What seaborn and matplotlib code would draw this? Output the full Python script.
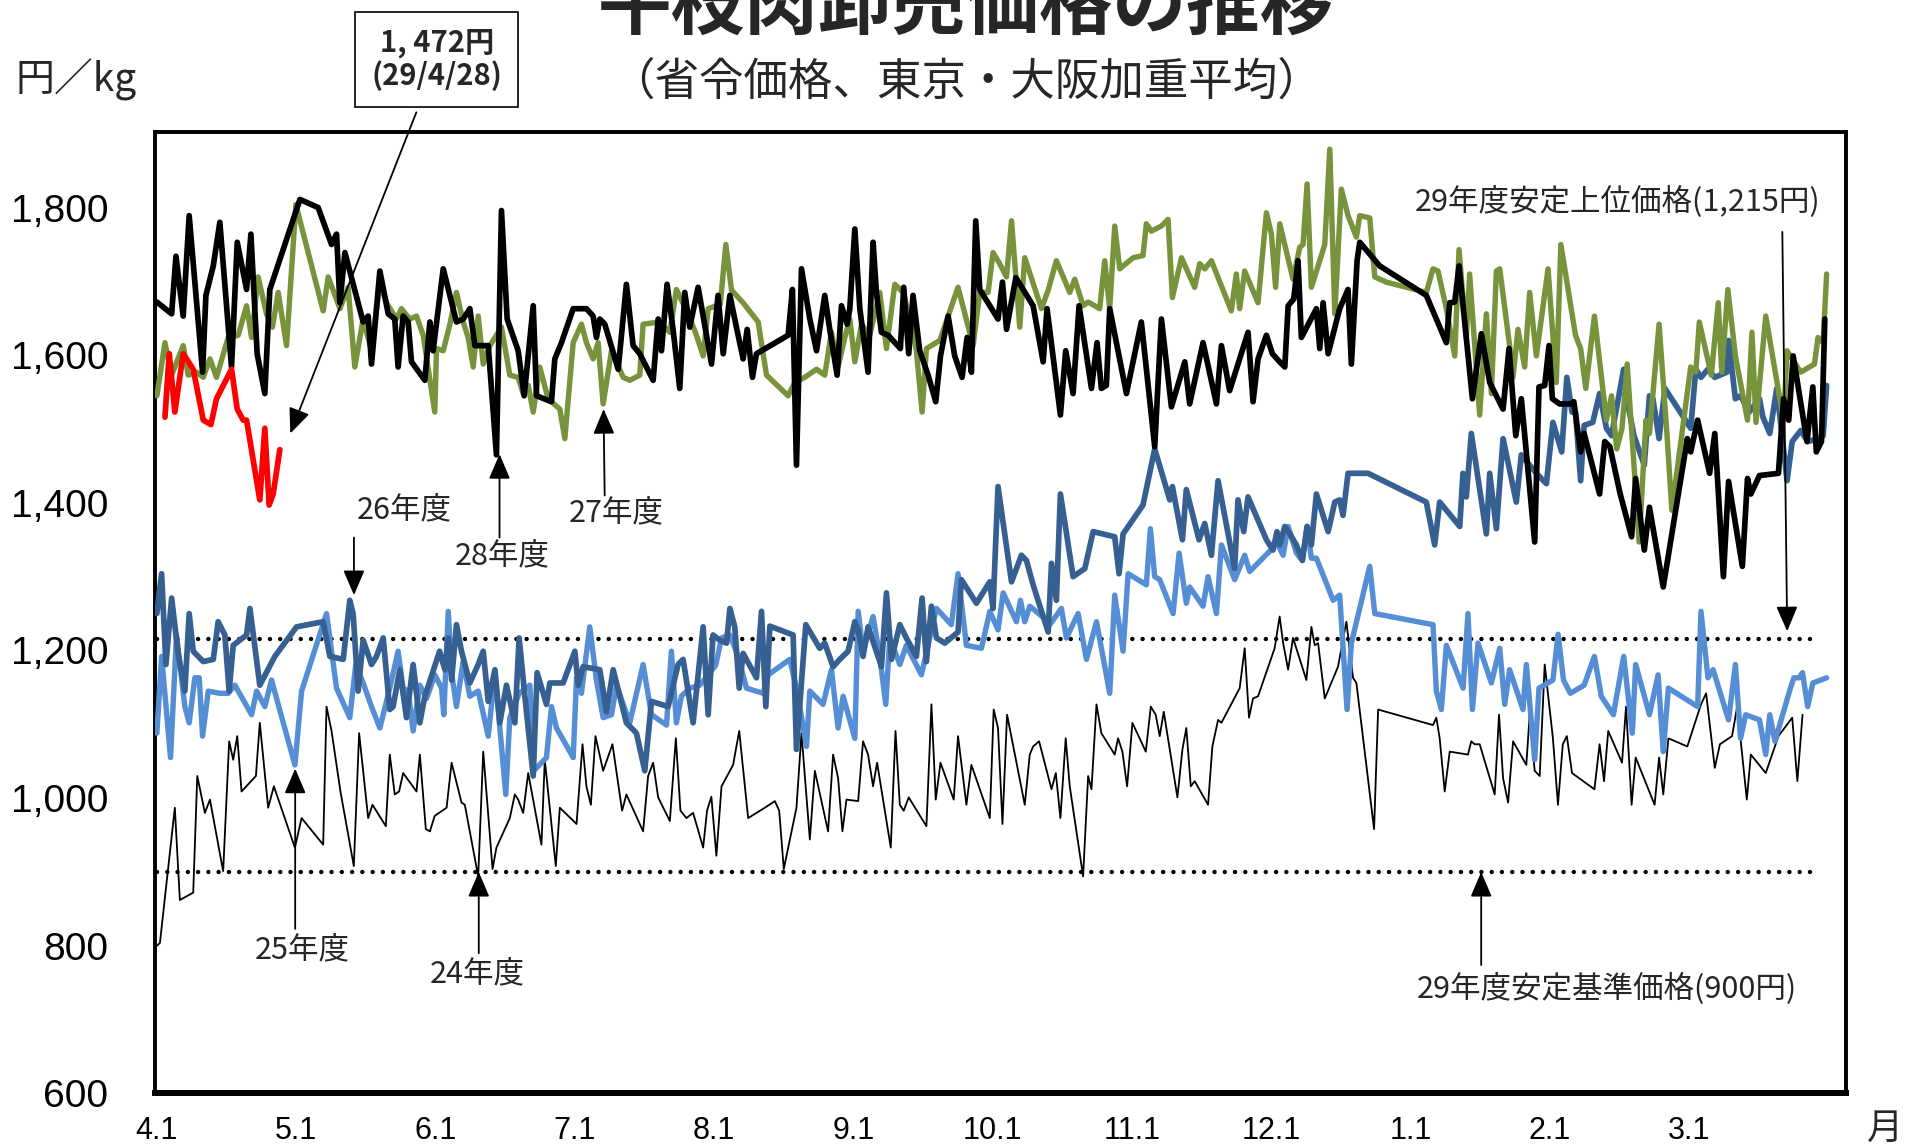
import matplotlib
matplotlib.use("Agg")
import matplotlib.pyplot as plt
import seaborn as sns
import numpy as np

# --- データ(横軸: 4月1日=0 とした月単位の位置, 縦軸: 円/kg) ---
months = ["4.1", "5.1", "6.1", "7.1", "8.1", "9.1", "10.1", "11.1", "12.1", "1.1", "2.1", "3.1"]
upper_price = 1215   # 29年度安定上位価格
base_price = 900     # 29年度安定基準価格

# 24年度
x_24 = [0.0, 0.022, 0.129, 0.165, 0.261, 0.29, 0.345, 0.381, 0.476, 0.519, 0.548, 0.577, 0.608, 0.711, 0.739,
        0.799, 0.84, 0.991, 1.039, 1.194, 1.218, 1.254, 1.318, 1.414, 1.452, 1.517, 1.548, 1.644, 1.672, 1.708,
        1.739, 1.768, 1.864, 1.888, 1.931, 1.96, 1.995, 2.08, 2.116, 2.187, 2.211, 2.307, 2.343, 2.41, 2.438,
        2.534, 2.57, 2.594, 2.63, 2.666, 2.761, 2.785, 2.864, 2.893, 3.013, 3.056, 3.084, 3.116, 3.149, 3.204,
        3.271, 3.34, 3.371, 3.491, 3.527, 3.563, 3.599, 3.683, 3.726, 3.759, 3.802, 3.85, 3.922, 3.95, 3.981,
        4.017, 4.054, 4.137, 4.181, 4.245, 4.365, 4.437, 4.468, 4.501, 4.592, 4.628, 4.688, 4.724, 4.819, 4.855,
        4.891, 4.922, 4.951, 5.035, 5.07, 5.106, 5.142, 5.171, 5.269, 5.303, 5.334, 5.362, 5.398, 5.525, 5.561,
        5.592, 5.626, 5.721, 5.752, 5.812, 5.848, 5.98, 6.008, 6.039, 6.071, 6.104, 6.231, 6.267, 6.291, 6.334,
        6.423, 6.454, 6.487, 6.525, 6.554, 6.65, 6.686, 6.71, 6.746, 6.781, 6.877, 6.901, 6.932, 6.966, 7.004,
        7.1, 7.136, 7.171, 7.2, 7.229, 7.327, 7.363, 7.391, 7.423, 7.451, 7.547, 7.578, 7.619, 7.643, 7.774,
        7.81, 7.841, 7.87, 7.906, 8.025, 8.061, 8.086, 8.122, 8.157, 8.253, 8.289, 8.313, 8.337, 8.385, 8.48,
        8.54, 8.588, 8.612, 8.739, 8.768, 9.162, 9.186, 9.21, 9.246, 9.282, 9.413, 9.437, 9.461, 9.497, 9.605,
        9.636, 9.665, 9.701, 9.737, 9.832, 9.856, 9.892, 9.928, 9.964, 10.023, 10.059, 10.094, 10.123, 10.16,
        10.321, 10.358, 10.39, 10.42, 10.519, 10.548, 10.588, 10.617, 10.753, 10.785, 10.815, 10.852, 10.988,
        11.086, 11.123, 11.185, 11.222, 11.309, 11.346, 11.415, 11.444, 11.551, 11.642, 11.741, 11.778, 11.815]
y_24 = [800, 804, 987, 862, 872, 1030, 980, 998, 901, 1077, 1052, 1084, 1009, 1030, 1102,
        987, 1016, 933, 973, 937, 1124, 1091, 1009, 908, 1088, 973, 991, 962, 1059, 1005,
        1009, 1034, 1009, 1059, 958, 955, 976, 987, 1048, 994, 991, 894, 1063, 904, 933,
        973, 1005, 998, 980, 1034, 937, 1052, 908, 987, 965, 1073, 1016, 991, 1084, 1037,
        1073, 983, 1005, 955, 1030, 1048, 1001, 969, 1081, 983, 973, 980, 933, 983, 1002,
        922, 1016, 1045, 1091, 973, 987, 996, 983, 904, 987, 1088, 944, 1037, 955, 1059,
        1027, 955, 998, 996, 1077, 1059, 1016, 1048, 933, 1091, 991, 983, 1001, 962, 1127,
        998, 1048, 998, 1084, 991, 1045, 973, 1120, 1095, 965, 1113, 991, 1059, 1070, 1077,
        1012, 1034, 973, 1081, 1016, 894, 1030, 1012, 1127, 1088, 1059, 1081, 1063, 1016, 1102,
        1063, 1124, 1113, 1084, 1117, 1001, 1066, 1095, 1016, 1023, 991, 1070, 1106, 1102, 1149,
        1203, 1109, 1135, 1138, 1203, 1246, 1210, 1174, 1217, 1160, 1232, 1207, 1210, 1135, 1178,
        1239, 1163, 1156, 958, 1120, 1099, 1109, 1081, 1009, 1063, 1059, 1077, 1073, 1073, 1005,
        1113, 1027, 994, 1077, 1045, 1113, 1037, 1030, 1181, 1081, 991, 1073, 1084, 1034,
        1012, 1073, 1023, 1091, 1048, 1124, 991, 1055, 991, 1055, 1005, 1081, 1070,
        1127, 1142, 1041, 1073, 1084, 1124, 998, 1059, 1034, 1084, 1109, 1023, 1113]

# 25年度
x_25 = [0.0, 0.034, 0.098, 0.141, 0.201, 0.232, 0.273, 0.304, 0.328, 0.369, 0.452, 0.512, 0.56, 0.68, 0.716,
        0.775, 0.823, 0.991, 1.039, 1.218, 1.29, 1.385, 1.428, 1.481, 1.541, 1.601, 1.672, 1.732, 1.768, 1.804,
        1.84, 1.888, 1.936, 1.996, 2.044, 2.06, 2.092, 2.116, 2.151, 2.199, 2.247, 2.307, 2.379, 2.427, 2.505,
        2.534, 2.601, 2.678, 2.706, 2.797, 2.833, 2.869, 2.989, 3.013, 3.048, 3.108, 3.156, 3.204, 3.264, 3.3,
        3.395, 3.491, 3.551, 3.659, 3.694, 3.73, 3.766, 3.826, 3.898, 4.012, 4.054, 4.114, 4.173, 4.233, 4.353,
        4.389, 4.544, 4.597, 4.664, 4.688, 4.783, 4.843, 4.891, 4.927, 5.011, 5.035, 5.07, 5.142, 5.19, 5.233,
        5.262, 5.334, 5.381, 5.489, 5.537, 5.597, 5.704, 5.752, 5.812, 5.92, 5.98, 6.039, 6.076, 6.171, 6.2,
        6.231, 6.267, 6.375, 6.411, 6.494, 6.53, 6.614, 6.674, 6.746, 6.841, 6.877, 6.937, 6.973, 7.104, 7.133,
        7.164, 7.2, 7.296, 7.339, 7.391, 7.415, 7.511, 7.547, 7.607, 7.643, 7.738, 7.81, 7.846, 8.013, 8.038,
        8.086, 8.122, 8.181, 8.224, 8.258, 8.289, 8.325, 8.445, 8.492, 8.545, 8.576, 8.708, 8.744, 9.162, 9.186,
        9.222, 9.258, 9.378, 9.413, 9.445, 9.485, 9.581, 9.641, 9.677, 9.712, 9.808, 9.832, 9.892, 9.923, 10.023,
        10.06, 10.099, 10.148, 10.247, 10.321, 10.37, 10.457, 10.531, 10.593, 10.617, 10.716, 10.778, 10.815,
        10.852, 11.062, 11.086, 11.136, 11.173, 11.284, 11.333, 11.37, 11.407, 11.506, 11.551, 11.58, 11.617,
        11.728, 11.753, 11.79, 11.815, 11.852, 11.889, 11.988]
y_25 = [1088, 1192, 1055, 1221, 1124, 1102, 1163, 1163, 1084, 1145, 1142, 1142, 1153, 1113, 1145,
        1124, 1160, 1045, 1145, 1250, 1149, 1109, 1181, 1156, 1124, 1095, 1149, 1199, 1149, 1145,
        1091, 1153, 1135, 1167, 1149, 1113, 1253, 1170, 1124, 1185, 1138, 1145, 1084, 1170, 1005,
        1109, 1142, 1153, 1037, 1055, 1124, 1095, 1055, 1163, 1142, 1232, 1160, 1109, 1113, 1153,
        1102, 1181, 1113, 1099, 1199, 1102, 1138, 1149, 1153, 1180, 1217, 1221, 1192, 1149, 1142,
        1167, 1188, 1145, 1070, 1145, 1127, 1174, 1095, 1138, 1081, 1253, 1199, 1246, 1192, 1127,
        1217, 1181, 1207, 1167, 1207, 1257, 1235, 1304, 1207, 1203, 1253, 1228, 1278, 1239, 1268,
        1239, 1260, 1243, 1235, 1257, 1217, 1250, 1188, 1239, 1142, 1275, 1199, 1304, 1289, 1365,
        1300, 1296, 1250, 1332, 1264, 1286, 1260, 1300, 1250, 1343, 1296, 1329, 1307, 1339, 1347,
        1329, 1368, 1332, 1322, 1368, 1325, 1325, 1268, 1275, 1120, 1210, 1314, 1250, 1235, 1145,
        1120, 1207, 1149, 1250, 1120, 1210, 1156, 1203, 1127, 1174, 1120, 1181, 1052, 1149, 1160,
        1222, 1160, 1142, 1153, 1192, 1138, 1113, 1192, 1088, 1181, 1113, 1167, 1063,
        1149, 1124, 1253, 1163, 1174, 1106, 1181, 1081, 1113, 1106, 1059, 1113, 1077,
        1149, 1163, 1163, 1170, 1124, 1156, 1163]

# 26年度
x_26 = [0.0, 0.034, 0.065, 0.106, 0.153, 0.201, 0.232, 0.261, 0.333, 0.405, 0.44, 0.488, 0.519, 0.548, 0.644,
        0.668, 0.739, 0.847, 1.003, 1.194, 1.242, 1.338, 1.385, 1.409, 1.445, 1.481, 1.541, 1.577, 1.625, 1.672,
        1.696, 1.744, 1.792, 1.84, 1.888, 1.924, 2.03, 2.068, 2.092, 2.116, 2.151, 2.187, 2.247, 2.307, 2.343,
        2.379, 2.427, 2.462, 2.51, 2.57, 2.601, 2.642, 2.702, 2.73, 2.797, 2.821, 2.917, 3.001, 3.025, 3.06,
        3.18, 3.228, 3.276, 3.371, 3.443, 3.503, 3.551, 3.671, 3.742, 3.778, 3.85, 3.922, 3.958, 3.993, 4.041,
        4.09, 4.114, 4.149, 4.181, 4.209, 4.305, 4.341, 4.372, 4.401, 4.568, 4.592, 4.659, 4.759, 4.795, 4.855,
        4.903, 4.963, 5.011, 5.035, 5.07, 5.106, 5.178, 5.202, 5.238, 5.274, 5.334, 5.381, 5.453, 5.494, 5.525,
        5.561, 5.597, 5.657, 5.752, 5.776, 5.884, 5.98, 6.003, 6.039, 6.136, 6.207, 6.243, 6.291, 6.399, 6.423,
        6.458, 6.487, 6.578, 6.662, 6.722, 6.877, 6.908, 6.937, 7.08, 7.164, 7.272, 7.291, 7.363, 7.391, 7.482,
        7.523, 7.571, 7.619, 7.738, 7.762, 7.803, 7.834, 7.966, 8.013, 8.042, 8.062, 8.098, 8.134, 8.181, 8.224,
        8.258, 8.289, 8.325, 8.409, 8.457, 8.492, 8.516, 8.552, 8.696, 9.114, 9.174, 9.21, 9.354, 9.377, 9.401,
        9.437, 9.545, 9.569, 9.617, 9.665, 9.76, 9.796, 9.904, 9.976, 10.023, 10.086, 10.123, 10.16, 10.185,
        10.222, 10.247, 10.309, 10.358, 10.407, 10.444, 10.531, 10.568, 10.605, 10.679, 10.716, 10.741, 10.785,
        10.827, 11.012, 11.049, 11.086, 11.136, 11.185, 11.272, 11.284, 11.333, 11.37, 11.432, 11.506, 11.531,
        11.58, 11.63, 11.704, 11.741, 11.802, 11.852, 11.926, 11.963, 11.988]
y_26 = [1250, 1304, 1181, 1271, 1196, 1145, 1250, 1199, 1185, 1188, 1239, 1221, 1145, 1207, 1221,
        1257, 1153, 1192, 1232, 1239, 1192, 1188, 1268, 1250, 1145, 1214, 1181, 1192, 1217, 1120,
        1124, 1174, 1109, 1181, 1102, 1138, 1199, 1174, 1217, 1160, 1235, 1199, 1156, 1181, 1199,
        1131, 1174, 1102, 1153, 1102, 1217, 1138, 1030, 1170, 1127, 1156, 1156, 1199, 1153, 1178,
        1174, 1117, 1174, 1102, 1088, 1037, 1131, 1124, 1181, 1188, 1102, 1232, 1113, 1221, 1214,
        1210, 1257, 1232, 1149, 1196, 1163, 1253, 1124, 1233, 1221, 1066, 1235, 1203, 1210, 1178,
        1188, 1199, 1239, 1228, 1192, 1232, 1192, 1178, 1278, 1188, 1235, 1217, 1192, 1271, 1185,
        1260, 1217, 1210, 1225, 1296, 1264, 1293, 1257, 1422, 1293, 1329, 1322, 1289, 1225, 1318,
        1268, 1412, 1300, 1311, 1361, 1354, 1304, 1358, 1397, 1473, 1404, 1422, 1350, 1418, 1350,
        1372, 1329, 1430, 1311, 1404, 1361, 1408, 1350, 1336, 1361, 1343, 1368, 1358, 1343, 1322,
        1368, 1343, 1412, 1361, 1401, 1404, 1383, 1440, 1440, 1401, 1343, 1401, 1368, 1440, 1408,
        1494, 1358, 1440, 1365, 1487, 1401, 1465, 1440, 1426, 1509, 1469, 1570, 1523, 1523,
        1430, 1505, 1509, 1548, 1501, 1491, 1581, 1527, 1491, 1451, 1545, 1541, 1487,
        1555, 1501, 1581, 1570, 1581, 1570, 1577, 1620, 1541, 1545, 1523, 1541, 1516,
        1494, 1555, 1430, 1483, 1498, 1483, 1487, 1491, 1559]

# 27年度
x_27 = [0.0, 0.058, 0.106, 0.189, 0.225, 0.285, 0.333, 0.381, 0.428, 0.512, 0.584, 0.644, 0.68, 0.727, 0.787,
        0.83, 0.871, 0.931, 0.998, 1.194, 1.23, 1.314, 1.373, 1.421, 1.481, 1.541, 1.601, 1.649, 1.72, 1.756,
        1.816, 1.864, 1.912, 1.995, 2.008, 2.056, 2.104, 2.151, 2.199, 2.235, 2.271, 2.307, 2.343, 2.391, 2.474,
        2.534, 2.594, 2.63, 2.666, 2.702, 2.749, 2.809, 2.893, 2.929, 2.989, 3.048, 3.084, 3.132, 3.168, 3.204,
        3.264, 3.348, 3.395, 3.467, 3.491, 3.611, 3.683, 3.73, 3.814, 3.874, 3.922, 3.958, 4.045, 4.085, 4.126,
        4.209, 4.317, 4.377, 4.532, 4.58, 4.652, 4.736, 4.795, 4.843, 4.891, 4.939, 4.975, 5.011, 5.059, 5.118,
        5.19, 5.238, 5.298, 5.358, 5.417, 5.453, 5.494, 5.525, 5.621, 5.752, 5.86, 5.908, 5.968, 6.003, 6.051,
        6.1, 6.136, 6.195, 6.231, 6.351, 6.399, 6.458, 6.554, 6.59, 6.65, 6.686, 6.769, 6.805, 6.841, 6.877,
        6.913, 7.009, 7.08, 7.104, 7.14, 7.212, 7.26, 7.291, 7.356, 7.451, 7.487, 7.523, 7.571, 7.714, 7.75,
        7.774, 7.81, 7.906, 7.966, 8.002, 8.032, 8.062, 8.157, 8.205, 8.229, 8.258, 8.289, 8.385, 8.421, 8.457,
        8.504, 8.552, 8.612, 8.636, 8.708, 8.744, 8.827, 9.114, 9.162, 9.198, 9.258, 9.318, 9.349, 9.401, 9.425,
        9.497, 9.545, 9.581, 9.617, 9.641, 9.712, 9.736, 9.772, 9.82, 9.856, 9.904, 9.988, 10.047, 10.08,
        10.185, 10.222, 10.259, 10.321, 10.407, 10.444, 10.481, 10.519, 10.556, 10.642, 10.691, 10.716, 10.785,
        10.84, 10.877, 11.012, 11.049, 11.074, 11.16, 11.21, 11.235, 11.279, 11.333, 11.42, 11.452, 11.481,
        11.551, 11.642, 11.679, 11.704, 11.802, 11.901, 11.926, 11.963, 11.988]
y_27 = [1545, 1617, 1573, 1613, 1573, 1577, 1570, 1595, 1570, 1624, 1627, 1667, 1624, 1706, 1656,
        1638, 1685, 1613, 1804, 1660, 1706, 1663, 1692, 1584, 1649, 1606, 1699, 1671, 1649, 1663,
        1649, 1653, 1627, 1523, 1609, 1606, 1642, 1685, 1645, 1624, 1584, 1653, 1588, 1613, 1638,
        1573, 1570, 1548, 1559, 1523, 1584, 1541, 1527, 1487, 1617, 1642, 1617, 1595, 1617, 1534,
        1606, 1570, 1566, 1573, 1642, 1645, 1631, 1689, 1656, 1627, 1599, 1663, 1669, 1750, 1688,
        1671, 1645, 1573, 1545, 1563, 1570, 1581, 1573, 1631, 1584, 1624, 1649, 1591, 1642, 1627,
        1685, 1609, 1696, 1685, 1642, 1606, 1523, 1609, 1620, 1692, 1613, 1685, 1685, 1739, 1724,
        1706, 1782, 1638, 1732, 1663, 1688, 1728, 1685, 1703, 1667, 1672, 1663, 1728, 1663, 1775,
        1717, 1732, 1735, 1778, 1768, 1775, 1784, 1678, 1732, 1692, 1724, 1717, 1728, 1660, 1710,
        1663, 1714, 1671, 1793, 1764, 1692, 1778, 1703, 1746, 1750, 1832, 1692, 1750, 1879, 1656,
        1825, 1789, 1760, 1789, 1786, 1706, 1699, 1685, 1717, 1714, 1663, 1599, 1743, 1624, 1710,
        1519, 1656, 1548, 1714, 1717, 1613, 1570, 1635, 1584, 1685, 1599, 1717, 1563, 1750,
        1627, 1609, 1555, 1653, 1512, 1545, 1473, 1501, 1588, 1347, 1512, 1494, 1642,
        1498, 1390, 1584, 1577, 1645, 1573, 1671, 1577, 1689, 1599, 1512, 1631, 1509,
        1653, 1552, 1512, 1606, 1577, 1588, 1624, 1617, 1710]

# 28年度
x_28 = [0.0, 0.106, 0.137, 0.189, 0.232, 0.328, 0.352, 0.405, 0.452, 0.536, 0.577, 0.644, 0.675, 0.72, 0.775,
        0.811, 1.027, 1.158, 1.254, 1.29, 1.314, 1.35, 1.481, 1.517, 1.541, 1.601, 1.661, 1.708, 1.732, 1.768,
        1.804, 1.828, 1.924, 1.96, 1.983, 2.056, 2.151, 2.199, 2.247, 2.283, 2.379, 2.438, 2.474, 2.515, 2.594,
        2.637, 2.702, 2.726, 2.833, 2.857, 2.905, 2.989, 3.084, 3.132, 3.156, 3.18, 3.216, 3.312, 3.371, 3.419,
        3.467, 3.563, 3.599, 3.623, 3.663, 3.706, 3.754, 3.79, 3.826, 3.886, 3.946, 3.982, 4.029, 4.066, 4.114,
        4.161, 4.209, 4.238, 4.276, 4.305, 4.532, 4.563, 4.592, 4.628, 4.688, 4.736, 4.795, 4.831, 4.884, 4.915,
        4.956, 4.975, 5.011, 5.047, 5.106, 5.142, 5.166, 5.202, 5.25, 5.338, 5.362, 5.398, 5.429, 5.477, 5.537,
        5.592, 5.626, 5.681, 5.728, 5.781, 5.817, 5.848, 5.879, 5.908, 6.039, 6.071, 6.1, 6.167, 6.291, 6.363,
        6.391, 6.487, 6.525, 6.578, 6.621, 6.71, 6.75, 6.781, 6.817, 6.841, 6.961, 7.068, 7.164, 7.212, 7.284,
        7.38, 7.415, 7.511, 7.607, 7.643, 7.702, 7.834, 7.87, 7.906, 7.966, 8.009, 8.061, 8.098, 8.122, 8.162,
        8.193, 8.217, 8.325, 8.349, 8.373, 8.409, 8.492, 8.552, 8.576, 8.617, 8.636, 8.779, 9.114, 9.258, 9.282,
        9.318, 9.349, 9.445, 9.509, 9.569, 9.665, 9.708, 9.756, 9.796, 9.892, 9.923, 9.964, 9.995, 10.019,
        10.071, 10.148, 10.173, 10.222, 10.247, 10.358, 10.395, 10.432, 10.506, 10.588, 10.617, 10.679, 10.716,
        10.815, 10.988, 11.012, 11.062, 11.148, 11.185, 11.247, 11.284, 11.383, 11.42, 11.444, 11.506, 11.642,
        11.679, 11.716, 11.748, 11.847, 11.889, 11.914, 11.951, 11.975]
y_28 = [1672, 1656, 1734, 1653, 1789, 1577, 1681, 1721, 1780, 1584, 1753, 1689, 1764, 1602, 1548,
        1689, 1811, 1800, 1750, 1764, 1671, 1739, 1645, 1653, 1588, 1714, 1656, 1649, 1584, 1653,
        1645, 1591, 1566, 1645, 1606, 1717, 1645, 1649, 1663, 1613, 1613, 1465, 1796, 1649, 1606,
        1545, 1667, 1545, 1537, 1595, 1617, 1663, 1663, 1653, 1624, 1649, 1642, 1581, 1696, 1613,
        1602, 1566, 1649, 1606, 1696, 1635, 1555, 1685, 1638, 1692, 1627, 1588, 1681, 1602, 1681,
        1638, 1595, 1635, 1570, 1602, 1627, 1689, 1451, 1717, 1649, 1606, 1681, 1635, 1573, 1667,
        1642, 1663, 1771, 1663, 1577, 1753, 1685, 1631, 1627, 1609, 1692, 1602, 1681, 1606, 1573,
        1537, 1599, 1653, 1599, 1570, 1624, 1577, 1782, 1689, 1649, 1699, 1635, 1705, 1667, 1591,
        1663, 1519, 1606, 1548, 1667, 1555, 1617, 1555, 1559, 1663, 1548, 1645, 1476, 1649, 1530,
        1591, 1534, 1617, 1534, 1613, 1552, 1631, 1537, 1595, 1627, 1602, 1591, 1584, 1667, 1676,
        1728, 1624, 1663, 1609, 1671, 1602, 1663, 1689, 1588, 1728, 1753, 1721, 1681, 1617, 1671,
        1672, 1721, 1541, 1629, 1563, 1527, 1609, 1491, 1541, 1347, 1557, 1559, 1613, 1541,
        1534, 1534, 1537, 1469, 1494, 1412, 1483, 1476, 1412, 1354, 1433, 1336, 1394,
        1286, 1487, 1469, 1512, 1440, 1494, 1300, 1429, 1314, 1433, 1412, 1437, 1440,
        1541, 1512, 1599, 1483, 1557, 1469, 1483, 1649]

# 29年度
x_29 = [0.058, 0.089, 0.129, 0.189, 0.261, 0.333, 0.388, 0.428, 0.536, 0.577, 0.62, 0.644, 0.739, 0.775,
        0.806, 0.835, 0.883]
y_29 = [1516, 1602, 1523, 1602, 1581, 1512, 1506, 1541, 1581, 1527, 1512, 1512, 1404, 1501,
        1397, 1412, 1472]

# --- 描画 ---
sns.set_style("white")
plt.rcParams["font.family"] = ["Liberation Sans", "Noto Sans CJK JP", "DejaVu Sans"]
jp = ["Noto Sans CJK JP", "DejaVu Sans"]

fig = plt.figure(figsize=(19.1, 11.47), dpi=100)
ax = fig.add_axes([0.0814, 0.0467, 0.8853, 0.838])

ax.hlines([upper_price, base_price], 0, 11.92, colors="black", linewidth=3.2,
          linestyles=[(0, (0.01, 2.3))], capstyle="round", zorder=2)

series = [
    (x_24, y_24, "black", 1.3),
    (x_25, y_25, "#558ED5", 3.9),
    (x_26, y_26, "#376092", 4.1),
    (x_27, y_27, "#77933C", 3.9),
    (x_28, y_28, "black", 4.1),
    (x_29, y_29, "#FF0000", 4.1),
]
for i, (xs, ys, col, lw) in enumerate(series):
    sns.lineplot(x=xs, y=ys, ax=ax, color=col, linewidth=lw, sort=False,
                 estimator=None, legend=False, zorder=3 + i)

ax.set_xlim(-0.01, 12.13)
ax.set_ylim(600, 1902)
ax.set_xlabel("")
ax.set_ylabel("")

ax.set_yticks(range(600, 1801, 200))
ax.set_yticklabels([f"{v:,}" for v in range(600, 1801, 200)], fontsize=28)
ax.set_xticks(range(12))
ax.set_xticklabels(months, fontsize=22, family=["Liberation Sans Narrow", "Liberation Sans"])
ax.set_xticks(np.arange(0.5, 12.01, 1.0).tolist() + [12], minor=True)
ax.tick_params(axis="y", direction="in", length=10, width=3, pad=34, colors="black")
ax.tick_params(axis="x", which="both", direction="in", length=9, width=2.5, pad=16, colors="black")

for side in ["left", "top", "right"]:
    ax.spines[side].set_linewidth(2.8)
    ax.spines[side].set_color("black")
ax.spines["bottom"].set_linewidth(4.3)
ax.spines["bottom"].set_color("black")

# 注記(矢印と文字)
arrow = dict(arrowstyle="-|>,head_length=0.7,head_width=0.3", color="black", lw=1.3,
             mutation_scale=22, shrinkA=0, shrinkB=0)
arrows = [
    ((1.415, 1275), (1.415, 1353)),
    ((2.46, 1466), (2.46, 1353)),
    ((3.207, 1527), (3.215, 1410)),
    ((0.993, 1040), (0.993, 823)),
    ((2.311, 900), (2.311, 790)),
    ((11.705, 1226), (11.67, 1767)),
    ((9.508, 900), (9.508, 774)),
    ((0.958, 1494), (1.863, 1929)),
]
for tip, tail in arrows:
    ax.annotate("", xy=tip, xytext=tail, arrowprops=arrow, annotation_clip=False, zorder=10)

labels = [
    ("26年度", 1.775, 1390),
    ("28年度", 2.478, 1328),
    ("27年度", 3.295, 1386),
    ("25年度", 1.046, 794),
    ("24年度", 2.302, 762),
    ("29年度安定上位価格(1,215円)", 10.49, 1807),
    ("29年度安定基準価格(900円)", 10.41, 741),
]
for txt, tx, ty in labels:
    ax.text(tx, ty, txt, fontsize=22, family=jp, ha="center", va="center", zorder=10)

ax.text(2.01, 2000, "1, 472円\n(29/4/28)", fontsize=21, fontweight="bold", family=jp,
        ha="center", va="center", linespacing=1.1, clip_on=False,
        bbox=dict(boxstyle="square,pad=0.55", facecolor="white", edgecolor="black", linewidth=1.2))

fig.text(0.506, 0.9756, "牛枝肉卸売価格の推移", fontsize=53, fontweight="bold", family=jp,
         ha="center", va="baseline")
fig.text(0.506, 0.929, "（省令価格、東京・大阪加重平均）", fontsize=32, family=jp,
         ha="center", va="center")
fig.text(0.008, 0.930, "円／kg", fontsize=28, family=jp, ha="left", va="center")
fig.text(0.987, 0.0157, "月", fontsize=26, family=jp, ha="center", va="center")

fig.savefig("out.png", dpi=100)
